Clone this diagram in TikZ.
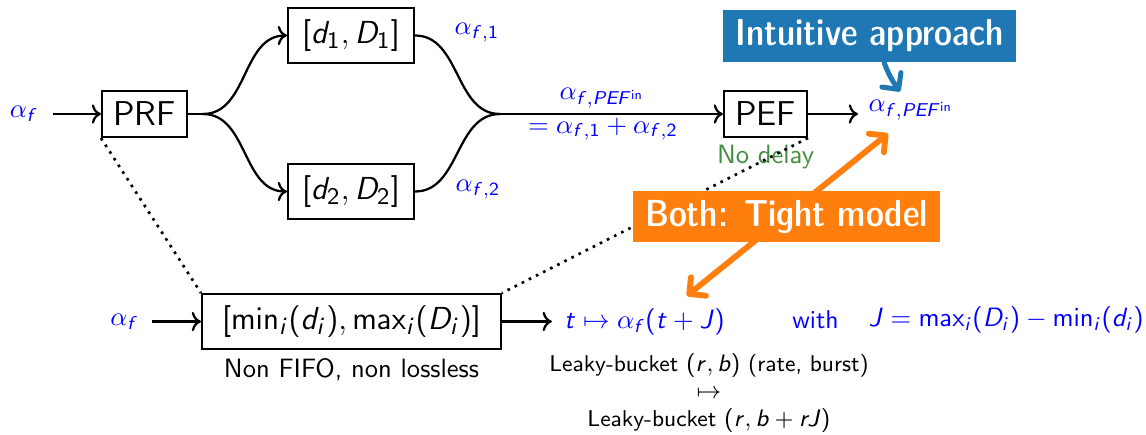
\documentclass[tikz,border=0pt]{standalone}
\usetikzlibrary{arrows.meta}
\renewcommand\familydefault{\sfdefault}
\DeclareSymbolFont{sfit}{OT1}{cmss}{m}{sl}
\SetSymbolFont{operators}{normal}{OT1}{cmss}{m}{n}
\DeclareMathSymbol{d}{\mathalpha}{sfit}{`d}
\DeclareMathSymbol{D}{\mathalpha}{sfit}{`D}
\DeclareMathSymbol{f}{\mathalpha}{sfit}{`f}
\DeclareMathSymbol{t}{\mathalpha}{sfit}{`t}
\DeclareMathSymbol{J}{\mathalpha}{sfit}{`J}
\DeclareMathSymbol{r}{\mathalpha}{sfit}{`r}
\DeclareMathSymbol{b}{\mathalpha}{sfit}{`b}
\DeclareMathSymbol{i}{\mathalpha}{sfit}{`i}
\DeclareMathSymbol{P}{\mathalpha}{sfit}{`P}
\DeclareMathSymbol{E}{\mathalpha}{sfit}{`E}
\DeclareMathSymbol{F}{\mathalpha}{sfit}{`F}
\definecolor{tabblue}{HTML}{1F77B4}
\definecolor{taborange}{HTML}{FF7F0E}
\definecolor{nodelay}{HTML}{3F8F3F}
\begin{document}
\begin{tikzpicture}[x=0.377pt,y=-0.377pt,
  box/.style={draw, line width=0.8pt, inner sep=0pt, font=\fontsize{13}{15}\selectfont},
  mbox/.style={box, font=\fontsize{12.4}{15}\selectfont},
  lbl/.style={text=blue, inner sep=0pt, font=\fontsize{10}{12}\selectfont},
  blbl/.style={text=blue, inner sep=0pt, font=\fontsize{9.7}{12}\selectfont},
  flow/.style={line width=0.85pt},
  arr/.style={flow, ->},
  dots/.style={dotted, line width=1pt},
  callout/.style={text=white, inner sep=0pt, font=\fontsize{14.2}{16}\fontseries{sbc}\selectfont},
  fatarrow/.style={line width=#1, line cap=round, line join=round}
]
\useasboundingbox (0,0) rectangle (1146,434);

% top network
\node[lbl] (af1) at (24,114) {$\alpha_f$};
\node[box, minimum width=32pt, minimum height=17.3pt] (prf) at (144.5,114) {PRF};
\node[mbox, minimum width=47.5pt, minimum height=20.7pt] (d1) at (351,35.5) {$[d_1, D_1]$};
\node[mbox, minimum width=47.5pt, minimum height=20.7pt] (d2) at (351,191.5) {$[d_2, D_2]$};
\node[box, minimum width=31.3pt, minimum height=17.3pt] (pef) at (765.5,114) {PEF};
\coordinate (split) at (203,114);
\coordinate (merge) at (500,114);
\node[lbl] (a1) at (477,33) {$\alpha_{f,1}$};
\node[lbl] (a2) at (478,190) {$\alpha_{f,2}$};
\node[lbl, anchor=south] (ain) at (602,109) {$\alpha_{f,PEF^{\mathrm{in}}}$};
\node[lbl, anchor=north] (asum) at (603,117) {$=\alpha_{f,1}+\alpha_{f,2}$};
\node[lbl] (apef) at (911,110) {$\alpha_{f,PEF^{\mathrm{in}}}$};
\node[text=nodelay, inner sep=0pt, font=\fontsize{10}{12}\selectfont] (nd) at (765.5,157) {No delay};

\draw[arr, shorten <=5.2pt] (af1) -- (prf.west);
\draw[flow] (prf.east) -- (split);
\draw[arr] (split) to[out=0,in=180] (d1.west);
\draw[arr] (split) to[out=0,in=180] (d2.west);
\draw[flow] (d1.east) to[out=0,in=180] (merge);
\draw[flow] (d2.east) to[out=0,in=180] (merge);
\draw[arr] (merge) -- (pef.west);
\draw[arr, shorten >=3.8pt] (pef.east) -- (pef.east -| apef.west);

% bottom
\node[lbl] (af2) at (124.5,321.5) {$\alpha_f$};
\node[mbox, minimum width=112.7pt, minimum height=20.7pt] (mm) at (351.5,321.5) {$[\min_i(d_i), \max_i(D_i)]$};
\node[inner sep=0pt, font=\fontsize{10}{12}\selectfont] (nf) at (351.5,370) {Non FIFO, non lossless};
\node[blbl] (tmap) at (644.5,321.5) {$t\mapsto \alpha_f(t+J)$};
\node[blbl] (with) at (815.5,320) {with};
\node[blbl, anchor=west] (jeq) at (868,320) {$J=\max_i(D_i)-\min_i(d_i)$};
\node[inner sep=0pt, align=center, font=\fontsize{8.6}{10.3}\selectfont] (lb) at (709,393)
  {Leaky-bucket $(r,b)$ (rate, burst)\\ $\mapsto$\\ Leaky-bucket $(r,b+rJ)$};

\draw[arr, shorten <=4.9pt] (af2) -- (mm.west);
\draw[arr, shorten >=4.5pt] (mm.east) -- (mm.east -| tmap.west);

% dotted correspondences
\draw[dots] (prf.south west) -- (mm.north west);
\draw[dots] (pef.south east) -- (mm.north east);

% callouts
\node[callout, fill=tabblue, minimum width=110.5pt, minimum height=19.6pt] (int) at (869.5,36) {Intuitive approach};
\draw[fatarrow=1.9pt, tabblue, -{Straight Barb[round, length=4.5pt, width=9pt]}]
  ([xshift=5.5pt]int.south) to[bend right=8] ([xshift=-4.1pt,yshift=3pt]apef.north);

\draw[fatarrow=2.2pt, taborange, {Straight Barb[round, length=4.5pt, width=9pt]}-{Straight Barb[round, length=4.5pt, width=9pt]}]
  ([xshift=16pt,yshift=4.5pt]tmap.north) -- ([xshift=-8.7pt,yshift=-4.9pt]apef.south);
\node[callout, fill=taborange, minimum width=115.7pt, minimum height=19.2pt] (both) at (786.5,216.5) {Both: Tight model};
\end{tikzpicture}
\end{document}
